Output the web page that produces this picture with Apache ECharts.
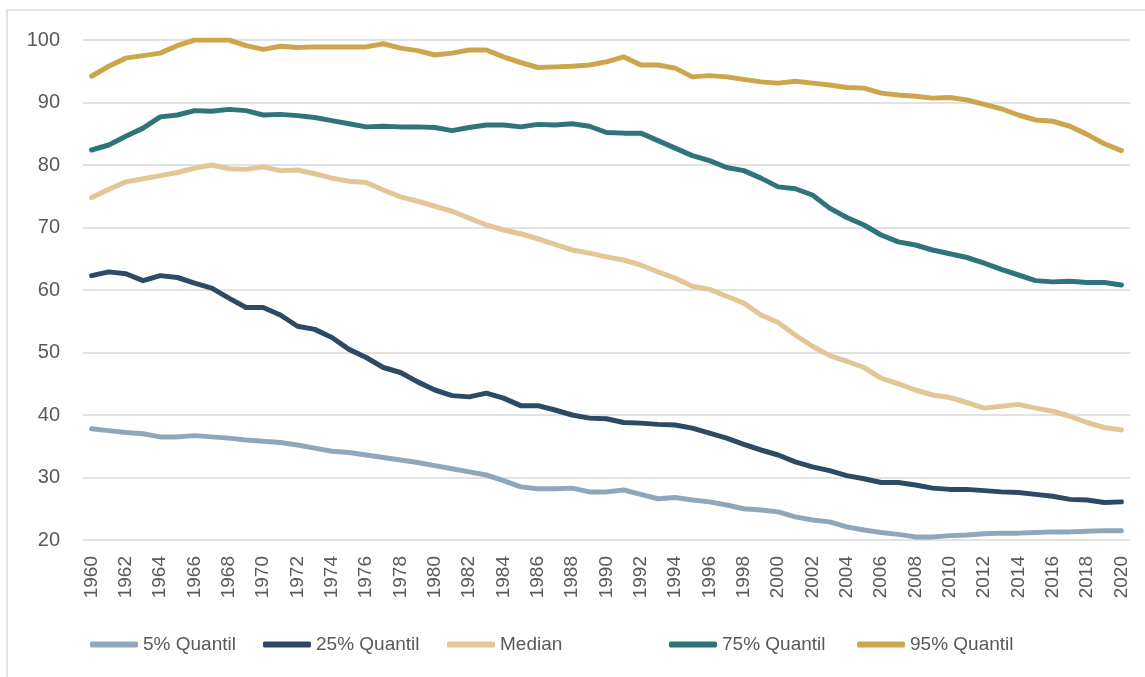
<!DOCTYPE html>
<html lang="de">
<head>
<meta charset="utf-8">
<title>Quantile 1960-2020</title>
<script src="https://cdn.jsdelivr.net/npm/echarts@6/dist/echarts.min.js"></script>
<style>
    html, body { margin: 0; padding: 0; background: #fff; }
    #chart { width: 1145px; height: 677px; }
</style>
</head>
<body>
<div id="chart"></div>
<script>
(function (window, document) {
    "use strict";

    // ---- Data ----
    const years = [];
    for (let y = 1960; y <= 2020; y++) years.push(String(y));

    const q05 = [
        37.8, 37.5, 37.2, 37.0, 36.5, 36.5, 36.7, 36.5, 36.3, 36.0,
        35.8, 35.6, 35.2, 34.7, 34.2, 34.0, 33.6, 33.2, 32.8, 32.4,
        31.9, 31.4, 30.9, 30.4, 29.5, 28.5, 28.2, 28.2, 28.3, 27.7,
        27.7, 28.0, 27.3, 26.6, 26.8, 26.4, 26.1, 25.6, 25.0, 24.8,
        24.5, 23.7, 23.2, 22.9, 22.1, 21.6, 21.2, 20.9, 20.5, 20.5,
        20.7, 20.8, 21.0, 21.1, 21.1, 21.2, 21.3, 21.3, 21.4, 21.5,
        21.5
    ];
    const q25 = [
        62.3, 62.9, 62.6, 61.5, 62.3, 62.0, 61.1, 60.3, 58.7, 57.2,
        57.2, 56.0, 54.2, 53.7, 52.4, 50.5, 49.2, 47.6, 46.8, 45.3,
        44.0, 43.1, 42.9, 43.5, 42.7, 41.5, 41.5, 40.8, 40.0, 39.5,
        39.4, 38.8, 38.7, 38.5, 38.4, 37.9, 37.1, 36.3, 35.3, 34.4,
        33.6, 32.5, 31.7, 31.1, 30.3, 29.8, 29.2, 29.2, 28.8, 28.3,
        28.1, 28.1, 27.9, 27.7, 27.6, 27.3, 27.0, 26.5, 26.4, 26.0,
        26.1
    ];
    const median = [
        74.8, 76.1, 77.3, 77.8, 78.3, 78.8, 79.5, 80.0, 79.4, 79.3,
        79.7, 79.1, 79.2, 78.6, 77.9, 77.4, 77.2, 76.0, 74.9, 74.2,
        73.4, 72.6, 71.5, 70.4, 69.6, 69.0, 68.2, 67.3, 66.4, 65.9,
        65.3, 64.8, 64.0, 62.9, 61.9, 60.6, 60.1, 59.0, 57.9, 56.0,
        54.8, 52.8, 51.0, 49.5, 48.6, 47.6, 45.9, 45.0, 44.0, 43.2,
        42.8, 42.0, 41.1, 41.4, 41.7, 41.1, 40.6, 39.8, 38.8, 38.0,
        37.6
    ];
    const q75 = [
        82.4, 83.2, 84.6, 85.9, 87.7, 88.0, 88.7, 88.6, 88.9, 88.7,
        88.0, 88.1, 87.9, 87.6, 87.1, 86.6, 86.1, 86.2, 86.1, 86.1,
        86.0, 85.5, 86.0, 86.4, 86.4, 86.1, 86.5, 86.4, 86.6, 86.2,
        85.2, 85.1, 85.1, 83.9, 82.7, 81.5, 80.7, 79.6, 79.1, 77.9,
        76.5, 76.2, 75.2, 73.1, 71.6, 70.4, 68.8, 67.7, 67.2, 66.4,
        65.8, 65.2, 64.3, 63.3, 62.4, 61.5, 61.3, 61.4, 61.2, 61.2,
        60.8
    ];
    const q95 = [
        94.2, 95.8, 97.1, 97.5, 97.9, 99.1, 100, 100, 100, 99.1,
        98.5, 99.0, 98.8, 98.9, 98.9, 98.9, 98.9, 99.4, 98.7, 98.3,
        97.6, 97.9, 98.4, 98.4, 97.3, 96.4, 95.6, 95.7, 95.8, 96.0,
        96.5, 97.3, 96.0, 96.0, 95.5, 94.1, 94.3, 94.1, 93.7, 93.3,
        93.1, 93.4, 93.1, 92.8, 92.4, 92.3, 91.5, 91.2, 91.0, 90.7,
        90.8, 90.4, 89.7, 89.0, 88.0, 87.2, 87.0, 86.2, 84.9, 83.4,
        82.3
    ];

    const seriesNames = ["5% Quantil", "25% Quantil", "Median", "75% Quantil", "95% Quantil"];
    const seriesColors = ["#8fa6bb", "#2c4966", "#e3c596", "#2f737b", "#cda54c"];
    const seriesData = [q05, q25, median, q75, q95];

    // legend slots are not evenly spaced in the original, so one legend per item
    const legendLeft = [85, 258, 442, 664, 852];

    const FONT = "'Liberation Sans', Arial, sans-serif";
    const TEXT = "#595959";
    const GRID_LINE = "#d9d9d9";

    const chart = echarts.init(document.getElementById("chart"), null, { renderer: "canvas" });

    chart.setOption({
        animation: false,
        backgroundColor: "#ffffff",
        textStyle: { fontFamily: FONT },
        // outer chart frame (only top + left edge visible in the picture)
        graphic: [{
            type: "rect",
            silent: true,
            shape: { x: 7, y: 10, width: 1400, height: 900 },
            style: { fill: "none", stroke: GRID_LINE, lineWidth: 1.5 }
        }],
        grid: { left: 83, right: 15, top: 40, bottom: 137 },
        legend: seriesNames.map((name, i) => ({
            left: legendLeft[i],
            top: 630,
            icon: "roundRect",
            itemWidth: 48,
            itemHeight: 6,
            textStyle: { color: TEXT, fontSize: 19, fontFamily: FONT },
            data: [name]
        })),
        xAxis: {
            type: "category",
            data: years,
            boundaryGap: true,
            axisLine: { show: false },
            axisTick: { show: false },
            axisLabel: {
                interval: 1,
                rotate: 90,
                margin: 16,
                color: TEXT,
                fontSize: 19,
                fontFamily: FONT
            }
        },
        yAxis: {
            type: "value",
            min: 20,
            max: 100,
            interval: 10,
            axisLine: { show: false },
            axisTick: { show: false },
            axisLabel: { margin: 23, color: TEXT, fontSize: 20, fontFamily: FONT },
            splitLine: { lineStyle: { color: GRID_LINE, width: 1.5 } }
        },
        series: seriesNames.map((name, i) => ({
            name,
            type: "line",
            data: seriesData[i],
            symbol: "none",
            smooth: false,
            color: seriesColors[i],
            lineStyle: { width: 5, color: seriesColors[i], cap: "round", join: "round" }
        }))
    });

    window.addEventListener("resize", () => chart.resize());

})(window, document);
</script>
</body>
</html>
